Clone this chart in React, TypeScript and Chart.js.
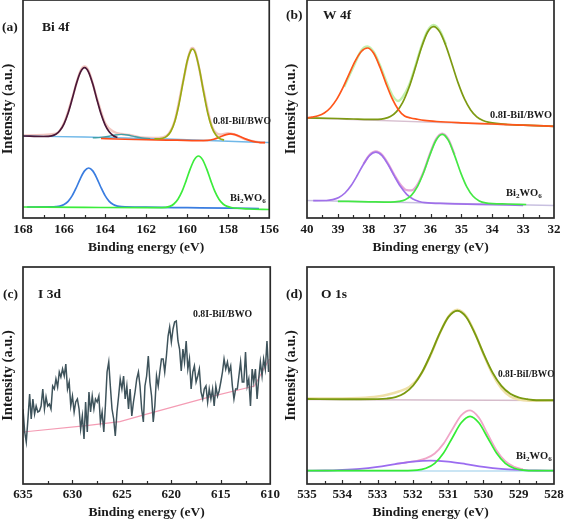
import React, { useEffect, useRef } from "react";
import { Chart, registerables } from "chart.js";

Chart.register(...registerables);

const FONT = "'Liberation Serif', 'Times New Roman', Times, serif";
const INK = "#1a1a1a";

// ---------------- Panel (a) Bi 4f ----------------
const A_MAROON_X = [168, 167, 166.6, 166.4, 166.2, 166.0, 165.8, 165.6, 165.4, 165.2, 165.0, 164.8, 164.6, 164.4, 164.2, 164.0, 163.8, 163.6, 163.4];
const A_MAROON_Y = [82, 81.5, 82.1, 83.7, 87.4, 94.2, 105, 119.2, 134.3, 145.9, 150.3, 145.7, 133.9, 118.6, 104.2, 93.2, 86.2, 82.3, 80.5];
const A_TEAL_X = [164.6, 164.2, 163.8, 163.5, 163.2, 162.9, 162.6, 162.2, 161.8];
const A_TEAL_Y = [80.2, 80.6, 81.8, 83, 83.6, 83, 81.6, 80, 79.4];
const A_RED_X = [164.2, 163.5, 162.5, 161.5, 160.5, 159.5, 159.0, 158.7, 158.4, 158.1, 157.9, 157.7, 157.4, 157.1, 156.8, 156.5, 156.2];
const A_RED_Y = [79.5, 79, 78.5, 78.1, 77.8, 77.4, 77.6, 78.8, 81, 83.4, 84.2, 83.6, 81.3, 78.6, 76.6, 75.7, 75.3];
const A_OLIVE_X = [161.6, 161.4, 161.2, 161.0, 160.8, 160.6, 160.4, 160.2, 160.0, 159.8, 159.74, 159.6, 159.4, 159.2, 159.0, 158.8, 158.6, 158.4, 158.2];
const A_OLIVE_Y = [79, 79.2, 79.7, 81.6, 86.5, 96.8, 113.8, 135.8, 156.8, 168.2, 169, 165, 148.5, 126, 105.3, 90.9, 82.9, 79.3, 78];
const A_BASE_X = [168, 165, 163, 161, 159, 157, 156];
const A_BASE_Y = [82, 81, 80, 79, 77.5, 76, 75.5];
const A_ENV_X = [168, 166.4, 166.0, 165.6, 165.2, 165.0, 164.8, 164.4, 164.0, 163.6, 163.2, 162.8, 162.2, 161.4, 161.0, 160.6, 160.2, 159.8, 159.74, 159.6, 159.2, 158.8, 158.4, 158.0, 157.6, 157.2, 156.6, 156.2];
const A_ENV_Y = [82.5, 84.2, 95, 120, 147, 151.5, 147, 120, 95, 86.5, 84, 83, 80.5, 80, 82.3, 97.5, 136.5, 169.5, 170, 166, 127.5, 92, 83.5, 84.8, 82.8, 78.8, 76, 75.5];
const A_BLUE_X = [167.8, 166.6, 166.4, 166.2, 166.0, 165.8, 165.6, 165.4, 165.2, 165.0, 164.8, 164.6, 164.4, 164.2, 164.0, 163.8, 163.6, 163.4, 163.2, 162.0, 160.0, 158.0, 156.5];
const A_BLUE_Y = [11, 11.1, 11.3, 11.9, 13.5, 16.7, 22.4, 30.5, 39.7, 47.1, 50, 47.1, 39.7, 30.5, 22.4, 16.7, 13.5, 11.9, 11.3, 10.8, 10.3, 9.8, 9.5];
const A_GREEN_X = [168, 165, 162, 161.05, 160.85, 160.65, 160.45, 160.25, 160.05, 159.85, 159.65, 159.45, 159.25, 159.05, 158.85, 158.65, 158.45, 158.25, 158.05, 157.85, 157, 156];
const A_GREEN_Y = [11, 10.6, 10.3, 10.7, 11.6, 14, 18.8, 26.6, 37.4, 49.1, 58.4, 62, 58.4, 49.1, 37.4, 26.6, 18.8, 14, 11.6, 10.5, 9, 8.5];

// ---------------- Panel (b) W 4f ----------------
const B_ORANGE_X = [40, 39.84, 39.64, 39.44, 39.24, 39.04, 38.84, 38.64, 38.44, 38.24, 38.04, 37.84, 37.64, 37.44, 37.24, 37.04, 36.84, 36.64, 36.44, 36.2, 35.8, 35.0, 34.0, 33.0, 32.0];
const B_ORANGE_Y = [100, 100.9, 102.2, 105, 110.3, 118.6, 130.1, 143.7, 156.9, 166.5, 170, 164.7, 151.1, 134.4, 119.3, 108.3, 102, 100, 98.8, 97.6, 96.5, 95.2, 94, 92.8, 91.7];
const B_OLIVE_X = [40, 39.0, 38.5, 38.0, 37.7, 37.5, 37.3, 37.1, 36.9, 36.7, 36.5, 36.3, 36.1, 35.9, 35.7, 35.5, 35.3, 35.1, 34.9, 34.7, 34.5, 34.3, 34.1, 33.5, 33.0, 32.0];
const B_OLIVE_Y = [100, 99.5, 99, 98.6, 98.7, 99.4, 101.5, 106.4, 115.6, 130.2, 149.4, 169.7, 185.5, 191.4, 186.1, 172.1, 153.5, 134.6, 119.1, 108.1, 101.2, 97.5, 95.7, 93.5, 92.8, 91.7];
const B_ENV_X = [38.8, 38.5, 38.24, 38.04, 37.84, 37.64, 37.44, 37.24, 37.05, 36.9, 36.7, 36.5, 36.3, 36.1, 35.9, 35.7, 35.5];
const B_ENV_Y = [131, 151, 167.5, 171.5, 166, 153, 137, 123, 117, 121, 132.5, 151, 171, 187, 193, 187.5, 173.5];
const B_BASE_TOP_X = [40, 32];
const B_BASE_TOP_Y = [100, 91.7];
const B_PURPLE_X = [39.8, 39.37, 39.17, 38.97, 38.77, 38.57, 38.37, 38.17, 37.97, 37.77, 37.57, 37.37, 37.17, 36.97, 36.77, 36.57, 36.37, 36.17, 35.5, 34.5, 33.0];
const B_PURPLE_Y = [17.3, 17.5, 18.4, 20.6, 25, 32.5, 42.7, 53.8, 62.7, 65.9, 62.4, 53.2, 41.9, 31.4, 23.6, 19, 16.5, 15.3, 14.4, 13.7, 12.7];
const B_GREEN_X = [39.0, 38.0, 37.3, 37.02, 36.82, 36.62, 36.42, 36.22, 36.02, 35.82, 35.62, 35.42, 35.22, 35.02, 34.82, 34.62, 34.42, 34.22, 33.5, 32.9];
const B_GREEN_Y = [16.7, 16.2, 15.9, 16.6, 18.3, 22.7, 31.6, 45.7, 63, 77.8, 83.6, 77.6, 62.6, 45.1, 30.8, 21.7, 17.1, 15.2, 14, 13.5];
const B_PINK_X = [38.17, 37.97, 37.77, 37.57, 37.37, 37.17, 36.97, 36.77, 36.62, 36.45, 36.22, 36.02, 35.82, 35.62, 35.42, 35.22];
const B_PINK_Y = [54.2, 63.2, 66.6, 63.2, 54.2, 43, 33.2, 27.8, 27.6, 32, 46.5, 64, 79, 84.5, 78.8, 63.5];
const B_BASE_LOW_X = [40, 32];
const B_BASE_LOW_Y = [17.5, 12.5];

// ---------------- Panel (c) I 3d ----------------
const C_E = [
  635, 634.83, 634.67, 634.5, 634.33, 634.17,
  634, 633.83, 633.67, 633.5, 633.33, 633.17,
  633, 632.83, 632.67, 632.5, 632.33, 632.17,
  632, 631.83, 631.67, 631.5, 631.33, 631.17,
  631, 630.83, 630.67, 630.5, 630.33, 630.17,
  630, 629.83, 629.67, 629.5, 629.33, 629.17,
  629, 628.83, 628.67, 628.5, 628.33, 628.17,
  628, 627.83, 627.67, 627.5, 627.33, 627.17,
  627, 626.83, 626.67, 626.5, 626.33, 626.17,
  626, 625.83, 625.67, 625.5, 625.33, 625.17,
  625, 624.83, 624.67, 624.5, 624.33, 624.17,
  624, 623.83, 623.67, 623.5, 623.33, 623.17,
  623, 622.83, 622.67, 622.5, 622.33, 622.17,
  622, 621.83, 621.67, 621.5, 621.33, 621.17,
  621, 620.83, 620.67, 620.5, 620.33, 620.17,
  620, 619.83, 619.67, 619.5, 619.33, 619.17,
  619, 618.83, 618.67, 618.5, 618.33, 618.17,
  618, 617.83, 617.67, 617.5, 617.33, 617.17,
  617, 616.83, 616.67, 616.5, 616.33, 616.17,
  616, 615.83, 615.67, 615.5, 615.33, 615.17,
  615, 614.83, 614.67, 614.5, 614.33, 614.17,
  614, 613.83, 613.67, 613.5, 613.33, 613.17,
  613, 612.83, 612.67, 612.5, 612.33, 612.17,
  612, 611.83, 611.67, 611.5, 611.33, 611.17,
  611, 610.83, 610.67, 610.5, 610.33, 610.17,
];
const C_I = [
  75, 52, 42, 65, 90, 65, 85, 70, 78, 72,
  73, 78, 95, 75, 87, 78, 80, 75, 98, 95,
  105, 97, 112, 107, 115, 108, 120, 95, 102, 78,
  88, 72, 82, 85, 75, 55, 68, 45, 82, 52,
  92, 72, 88, 75, 85, 82, 88, 62, 72, 52,
  78, 112, 122, 98, 75, 65, 48, 72, 88, 105,
  95, 108, 85, 98, 75, 95, 68, 82, 92, 105,
  112, 98, 75, 62, 98, 108, 128, 102, 88, 62,
  78, 108, 98, 112, 125, 125, 112, 128, 148, 157,
  142, 155, 162, 163, 143, 135, 113, 135, 122, 143,
  115, 125, 95, 112, 118, 102, 108, 115, 92, 85,
  95, 98, 82, 95, 85, 95, 78, 98, 88, 93,
  102, 112, 125, 115, 122, 112, 118, 98, 85, 95,
  95, 108, 122, 102, 102, 132, 98, 105, 78, 115,
  102, 115, 85, 105, 122, 108, 125, 115, 143, 112,
];
const C_BG_X = [635, 628.6, 625.2, 622.5, 616.3, 611.6, 610.1];
const C_BG_Y = [52, 58.3, 62.3, 69.8, 86.7, 98, 125];

// ---------------- Panel (d) O 1s ----------------
const D_OLIVE_X = [535, 534, 533.5, 532.99, 532.74, 532.49, 532.24, 531.99, 531.74, 531.49, 531.24, 530.99, 530.74, 530.49, 530.24, 529.99, 529.74, 529.49, 529.24, 528.99, 528.74, 528.5, 528];
const D_OLIVE_Y = [85, 84.8, 84.8, 84.9, 85.4, 86.9, 90.7, 98.5, 111.7, 130.1, 150.6, 167.1, 173.3, 167, 150.4, 129.9, 111.4, 98.1, 90.2, 86.4, 84.7, 83.8, 83.7];
const D_RAW_X = [535, 534, 533.5, 533, 532.7, 532.4, 532.1, 531.8, 531.5, 531.24, 530.99, 530.74, 530.49, 530.24, 529.99, 529.74, 529.49, 529.24, 528.99, 528.7, 528.3, 528];
const D_RAW_Y = [85.5, 85.5, 86, 87.5, 89.5, 92.5, 97, 108, 128.5, 150.5, 167.5, 174.2, 168, 151, 129, 109.5, 95.5, 87.5, 84.3, 83.3, 83.5, 83.7];
const D_BASE_TOP_X = [535, 528];
const D_BASE_TOP_Y = [84.5, 83.5];
const D_PURPLE_X = [535, 534.5, 534, 533.5, 533, 532.5, 532, 531.5, 531, 530.5, 530, 529.5, 529, 528.5, 528];
const D_PURPLE_Y = [13.4, 13.5, 14.1, 15.2, 17.2, 19.9, 22.3, 23.3, 22.3, 19.9, 17.2, 15.2, 14.1, 13.5, 13.4];
const D_GREEN_X = [535, 532.5, 531.88, 531.63, 531.38, 531.13, 530.88, 530.63, 530.38, 530.13, 529.88, 529.63, 529.38, 529.13, 528.88, 528.5, 528];
const D_GREEN_Y = [13.3, 13.3, 13.9, 15.7, 20.6, 30.9, 46.3, 61.2, 67.6, 61.2, 46.3, 30.9, 20.6, 15.7, 13.9, 13.3, 13.3];
const D_PINK_X = [532.5, 532.2, 531.88, 531.63, 531.38, 531.13, 530.88, 530.63, 530.38, 530.13, 529.88, 529.63, 529.38, 529.13, 528.88];
const D_PINK_Y = [19.9, 21.5, 23.2, 25.6, 30.5, 40.4, 54.8, 68.7, 73.7, 66.4, 50, 33.8, 22.8, 17.2, 14.8];
const D_BASE_LOW_X = [535, 528];
const D_BASE_LOW_Y = [13, 13];

// ---------------- specs ----------------
type LineSpec = { xs: number[]; ys: number[]; color: string; width: number; smooth: boolean };
type TextSpec = { text: string; x: number; y: number; size: number; chem?: boolean };
type PanelSpec = {
  left: number; top: number; width: number; height: number;
  xMin: number; xMax: number; xStep: number; minorStep: number; yMax: number;
  padTop: number; padRight: number; yAxisWidth: number; xAxisHeight: number;
  tickPad: number; titlePad: number;
  texts: TextSpec[];
  lines: LineSpec[];
};

const L = (xs: number[], ys: number[], color: string, width = 1.7, smooth = true): LineSpec => ({ xs, ys, color, width, smooth });

const SAMPLE = "0.8I-BiI/BWO";
const CHEM = "Bi2WO6";

const PANEL_A: PanelSpec = {
  left: 0, top: 0, width: 283, height: 262,
  xMin: 156, xMax: 168, xStep: 2, minorStep: 1, yMax: 218,
  padTop: 0, padRight: 12, yAxisWidth: 23, xAxisHeight: 44, tickPad: 4, titlePad: 6,
  texts: [
    { text: "(a)", x: 2, y: 28, size: 13.5 },
    { text: "Bi 4f", x: 42, y: 28, size: 13.5 },
    { text: SAMPLE, x: 213, y: 122, size: 9.6 },
    { text: CHEM, x: 230, y: 198, size: 10.5, chem: true },
  ],
  lines: [
    L(A_MAROON_X, A_MAROON_Y, "#4a1838"),
    L(A_OLIVE_X, A_OLIVE_Y, "#9aaa12"),
    L(A_RED_X, A_RED_Y, "#ff4d1a"),
    L(A_TEAL_X, A_TEAL_Y, "#3fa0a8", 1.4),
    L(A_BASE_X, A_BASE_Y, "#70b8e8", 1.3),
    L(A_ENV_X, A_ENV_Y, "#f2c6c0", 2.4),
    L(A_GREEN_X, A_GREEN_Y, "#3cec3c"),
    L(A_BLUE_X, A_BLUE_Y, "#3a7de0"),
  ],
};

const PANEL_B: PanelSpec = {
  left: 283, top: 0, width: 284, height: 262,
  xMin: 32, xMax: 40, xStep: 1, minorStep: 0.5, yMax: 218,
  padTop: 0, padRight: 13, yAxisWidth: 24, xAxisHeight: 44, tickPad: 4, titlePad: 6,
  texts: [
    { text: "(b)", x: 3, y: 16, size: 13.5 },
    { text: "W 4f", x: 40, y: 16, size: 13.5 },
    { text: SAMPLE, x: 207, y: 115, size: 10.3 },
    { text: CHEM, x: 223, y: 193, size: 10.5, chem: true },
  ],
  lines: [
    L(B_ORANGE_X, B_ORANGE_Y, "#ff561a"),
    L(B_OLIVE_X, B_OLIVE_Y, "#7d9a12"),
    L(B_ENV_X, B_ENV_Y, "#c2f0ae", 2.4),
    L(B_BASE_TOP_X, B_BASE_TOP_Y, "#d8c0d0", 1.3, false),
    L(B_GREEN_X, B_GREEN_Y, "#44e844"),
    L(B_PURPLE_X, B_PURPLE_Y, "#a070ea"),
    L(B_PINK_X, B_PINK_Y, "#e6a6d6", 2.2),
    L(B_BASE_LOW_X, B_BASE_LOW_Y, "#c8c0e0", 1.3, false),
  ],
};

const PANEL_C: PanelSpec = {
  left: 0, top: 262, width: 283, height: 262,
  xMin: 610, xMax: 635, xStep: 5, minorStep: 2.5, yMax: 217,
  padTop: 5, padRight: 12, yAxisWidth: 23, xAxisHeight: 40, tickPad: 3, titlePad: 3.5,
  texts: [
    { text: "(c)", x: 3, y: 33, size: 13.5 },
    { text: "I 3d", x: 38, y: 33, size: 13.5 },
    { text: SAMPLE, x: 193, y: 52, size: 9.8 },
  ],
  lines: [
    L(C_E, C_I, "#3e535b", 1.5, false),
    L(C_BG_X, C_BG_Y, "#f49cb4", 1.2, false),
  ],
};

const PANEL_D: PanelSpec = {
  left: 283, top: 262, width: 284, height: 262,
  xMin: 528, xMax: 535, xStep: 1, minorStep: 0.5, yMax: 217,
  padTop: 5, padRight: 13, yAxisWidth: 24, xAxisHeight: 40, tickPad: 3, titlePad: 3.5,
  texts: [
    { text: "(d)", x: 3, y: 33, size: 13.5 },
    { text: "O 1s", x: 38, y: 33, size: 13.5 },
    { text: SAMPLE, x: 215, y: 113, size: 9.4 },
    { text: CHEM, x: 233, y: 194, size: 10.5, chem: true },
  ],
  lines: [
    L(D_OLIVE_X, D_OLIVE_Y, "#7a9a10", 1.9),
    L(D_RAW_X, D_RAW_Y, "#efe0a8", 2.4),
    L(D_BASE_TOP_X, D_BASE_TOP_Y, "#d6bccb", 1.3, false),
    L(D_GREEN_X, D_GREEN_Y, "#35ec35"),
    L(D_PURPLE_X, D_PURPLE_Y, "#9b6cf0", 1.8),
    L(D_PINK_X, D_PINK_Y, "#f0a6c8", 1.8),
    L(D_BASE_LOW_X, D_BASE_LOW_Y, "#b8dcf0", 1.3, false),
  ],
};

function drawChem(ctx: CanvasRenderingContext2D, x: number, y: number, size: number) {
  const parts: [string, boolean][] = [["Bi", false], ["2", true], ["WO", false], ["6", true]];
  let cx = x;
  for (const [t, sub] of parts) {
    ctx.font = `bold ${sub ? size * 0.68 : size}px ${FONT}`;
    ctx.fillText(t, cx, sub ? y + size * 0.32 : y);
    cx += ctx.measureText(t).width;
  }
}

function makeDecor(spec: PanelSpec) {
  return {
    id: "decor",
    afterDraw(chart: any) {
      const { ctx, chartArea: ca, scales } = chart;
      const xs = scales.x;
      ctx.save();
      ctx.strokeStyle = "#2a2a2a";
      ctx.lineWidth = 1.2;
      const n = Math.round((spec.xMax - spec.xMin) / spec.minorStep);
      for (let i = 1; i < n; i++) {
        const v = spec.xMin + i * spec.minorStep;
        const r = v / spec.xStep;
        const major = Math.abs(r - Math.round(r)) < 1e-6;
        const px = Math.round(xs.getPixelForValue(v)) + 0.5;
        ctx.beginPath();
        ctx.moveTo(px, ca.bottom);
        ctx.lineTo(px, ca.bottom - (major ? 4 : 3));
        ctx.stroke();
      }
      ctx.lineWidth = 1.7;
      ctx.strokeRect(ca.left, ca.top, ca.right - ca.left, ca.bottom - ca.top);
      ctx.fillStyle = INK;
      ctx.textBaseline = "middle";
      ctx.textAlign = "left";
      for (const t of spec.texts) {
        if (t.chem) {
          drawChem(ctx, t.x, t.y, t.size);
        } else {
          ctx.font = `bold ${t.size}px ${FONT}`;
          ctx.fillText(t.text, t.x, t.y);
        }
      }
      ctx.restore();
    },
  };
}

function Panel({ spec }: { spec: PanelSpec }) {
  const ref = useRef<HTMLCanvasElement>(null);
  useEffect(() => {
    const canvas = ref.current;
    if (!canvas) return;
    const chart = new Chart(canvas, {
      type: "line",
      data: {
        datasets: spec.lines.map((l) => ({
          data: l.xs.map((x, i) => ({ x, y: l.ys[i] })),
          borderColor: l.color,
          borderWidth: l.width,
          pointRadius: 0,
          fill: false,
          tension: 0,
          cubicInterpolationMode: l.smooth ? "monotone" : "default",
        })),
      },
      options: {
        animation: false,
        responsive: false,
        devicePixelRatio: 1,
        events: [],
        layout: { padding: { top: spec.padTop, right: spec.padRight, left: 0, bottom: 0 } },
        plugins: { legend: { display: false }, tooltip: { enabled: false } },
        scales: {
          x: {
            type: "linear",
            min: spec.xMin,
            max: spec.xMax,
            reverse: true,
            grid: { display: false, drawTicks: false },
            border: { display: false },
            ticks: {
              stepSize: spec.xStep,
              autoSkip: false,
              maxRotation: 0,
              padding: spec.tickPad,
              color: INK,
              font: { family: FONT, size: 13, weight: "bold" },
            },
            title: {
              display: true,
              text: "Binding energy (eV)",
              color: INK,
              font: { family: FONT, size: 13.5, weight: "bold" },
              padding: { top: 0, bottom: spec.titlePad },
            },
            afterFit: (s: any) => { s.height = spec.xAxisHeight; },
          },
          y: {
            type: "linear",
            min: 0,
            max: spec.yMax,
            grid: { display: false, drawTicks: false },
            border: { display: false },
            ticks: { display: false },
            title: {
              display: true,
              text: "Intensity (a.u.)",
              color: INK,
              font: { family: FONT, size: 14.5, weight: "bold" },
              padding: { top: 0, bottom: 0 },
            },
            afterFit: (s: any) => { s.width = spec.yAxisWidth; },
          },
        },
      } as any,
      plugins: [makeDecor(spec)],
    });
    return () => chart.destroy();
  }, [spec]);
  return (
    <canvas
      ref={ref}
      width={spec.width}
      height={spec.height}
      style={{ position: "absolute", left: spec.left, top: spec.top, width: spec.width, height: spec.height }}
    />
  );
}

export default function App() {
  return (
    <div style={{ position: "absolute", left: 0, top: 0, width: 567, height: 524, background: "#fff" }}>
      <Panel spec={PANEL_A} />
      <Panel spec={PANEL_B} />
      <Panel spec={PANEL_C} />
      <Panel spec={PANEL_D} />
    </div>
  );
}
